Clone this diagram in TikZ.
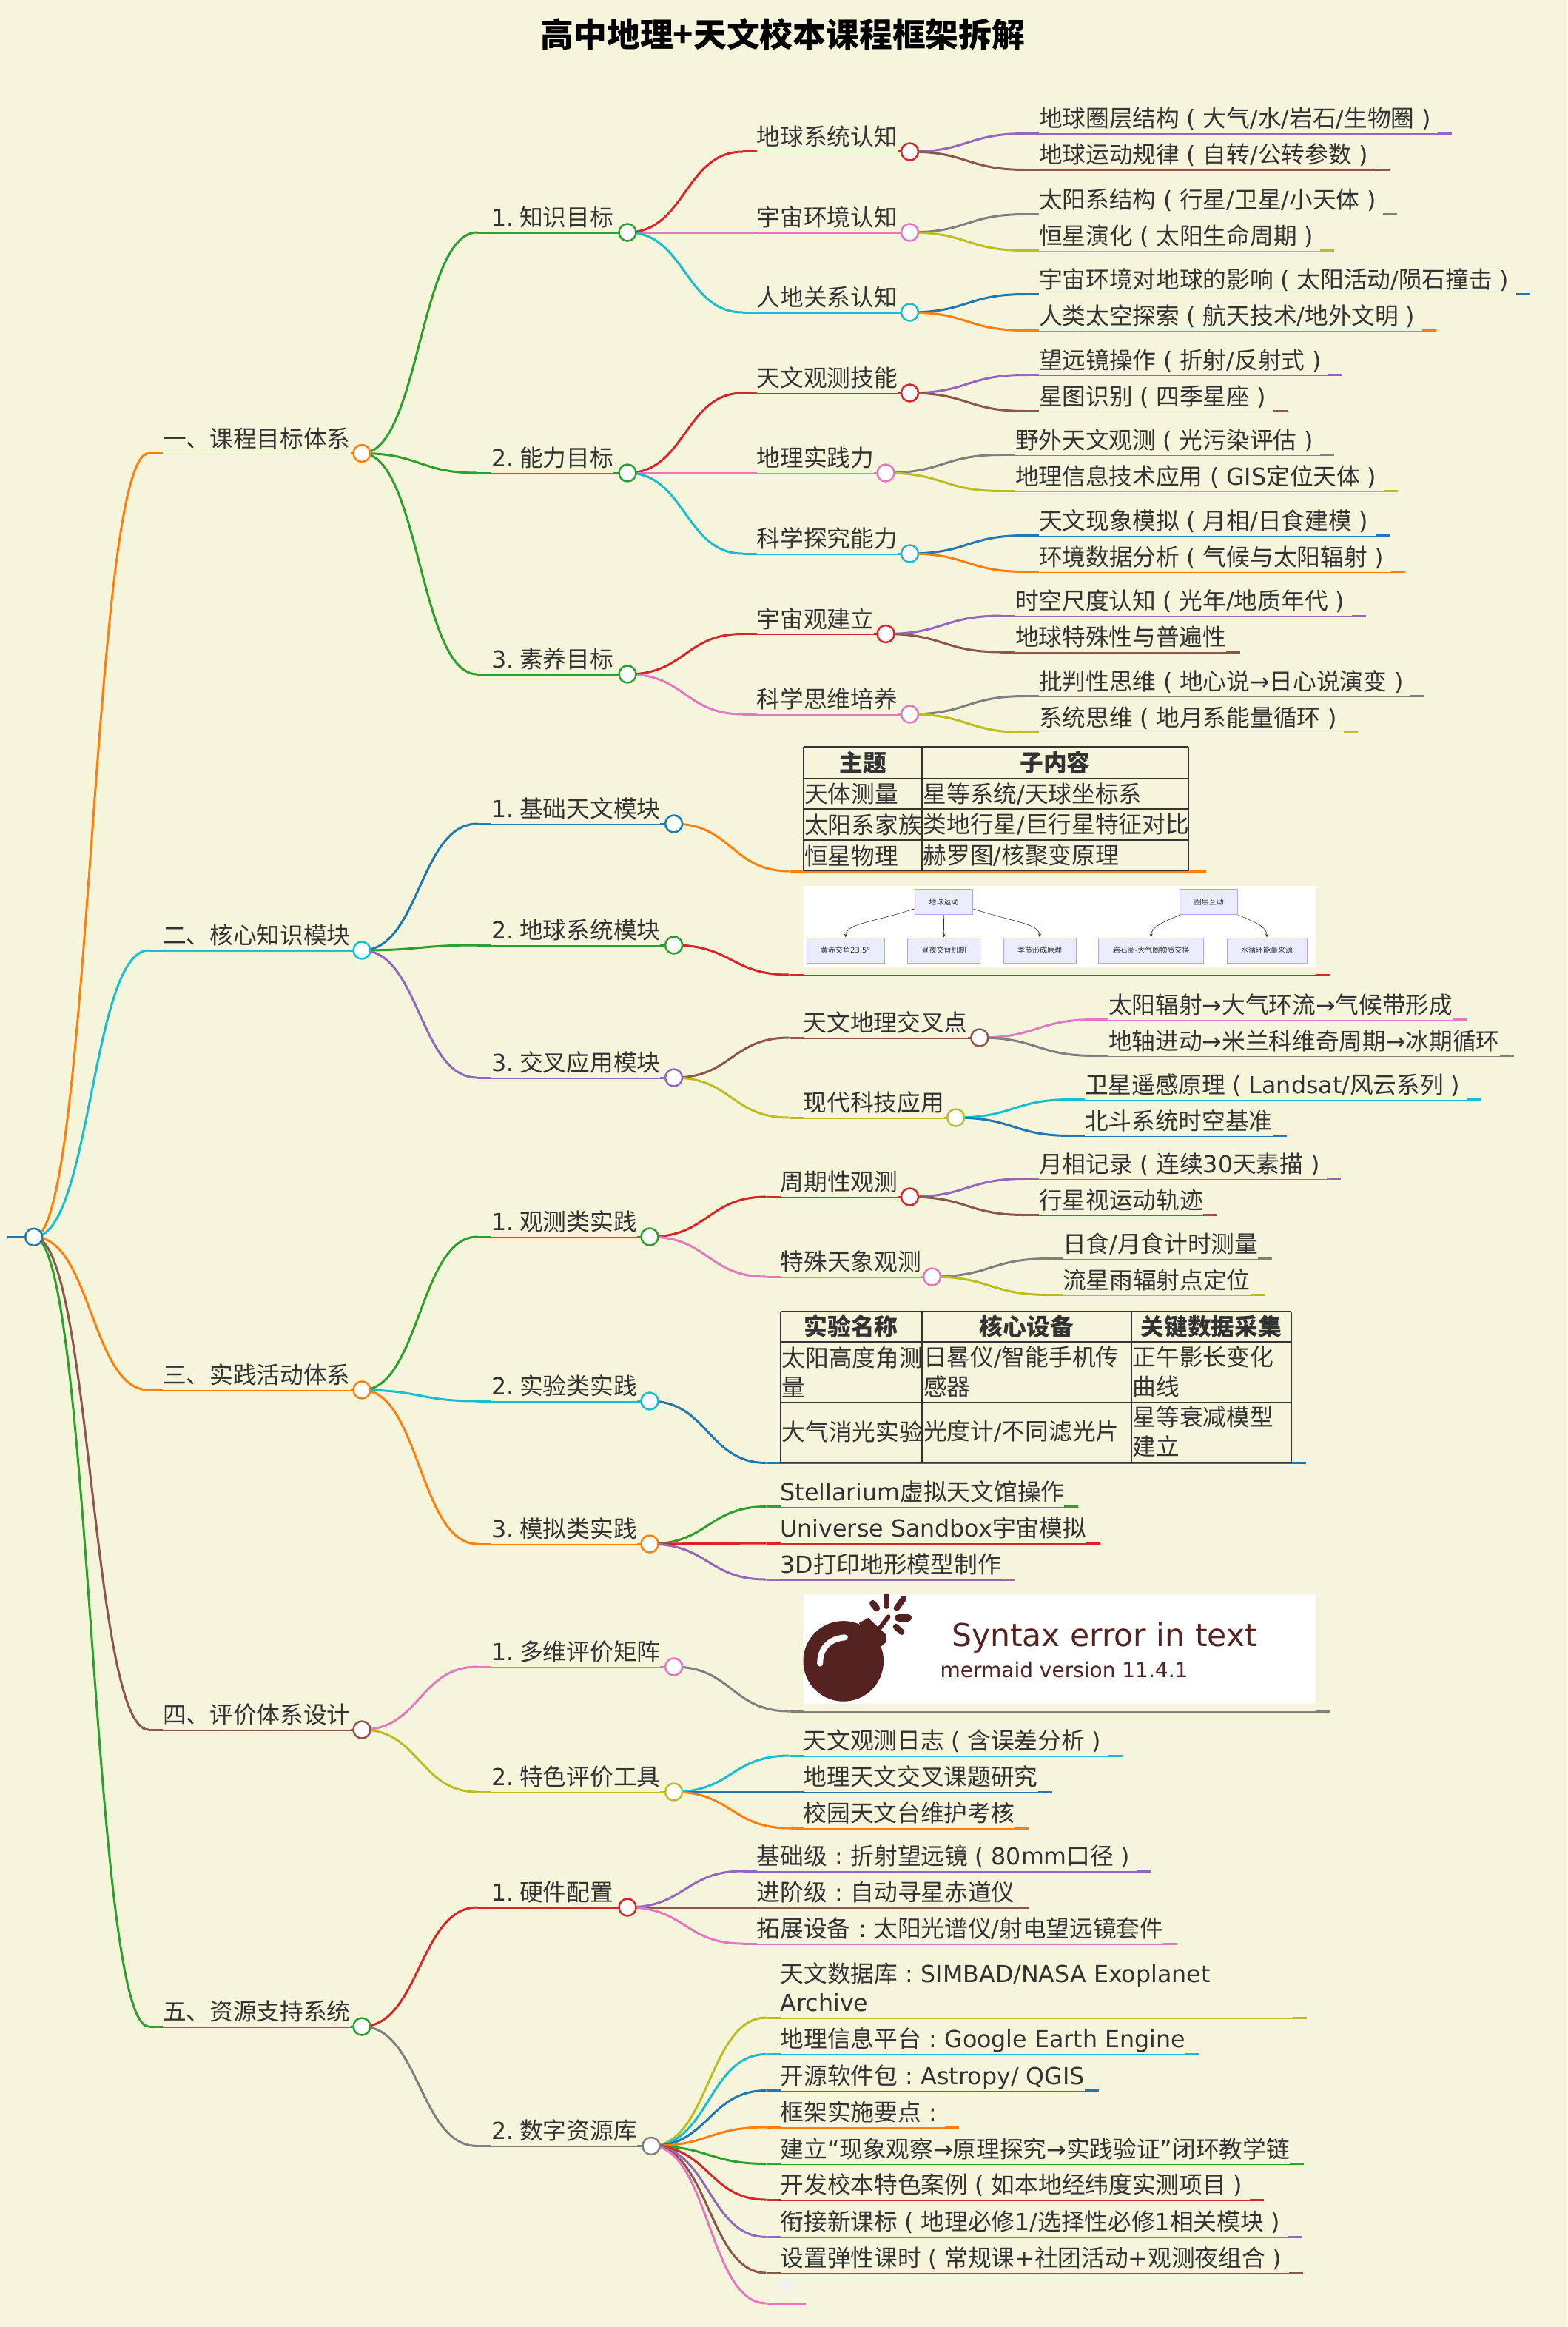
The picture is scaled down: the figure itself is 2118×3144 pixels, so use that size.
\documentclass[tikz,border=0pt]{standalone}
\usepackage{fontspec}
\setmainfont{Noto Sans CJK SC}
\newfontfamily\latfont{DejaVu Sans}
\newcommand{\lat}[1]{{\latfont #1}}
\newcommand{\zkl}{\makebox[1em]{\lat{(}}}
\newcommand{\zkr}{\makebox[1em]{\lat{)}}}
\newcommand{\zmh}{\makebox[1em]{\lat{:}}}
\newcommand{\xg}{\lat{/}}
\newcommand{\nlab}[1]{\lat{#1.}\hspace{8pt}}
\usetikzlibrary{arrows.meta,calc,backgrounds}
\definecolor{bgcol}{HTML}{F5F5DC}
\definecolor{txtcol}{HTML}{333333}
\definecolor{mmblue}{HTML}{1F77B4}
\definecolor{mmorange}{HTML}{FF7F0E}
\definecolor{mmgreen}{HTML}{2CA02C}
\definecolor{mmred}{HTML}{D62728}
\definecolor{mmpurple}{HTML}{9467BD}
\definecolor{mmbrown}{HTML}{8C564B}
\definecolor{mmpink}{HTML}{E377C2}
\definecolor{mmgray}{HTML}{7F7F7F}
\definecolor{mmolive}{HTML}{BCBD22}
\definecolor{mmcyan}{HTML}{17BECF}
\definecolor{bombcol}{HTML}{552222}
\definecolor{flowfill}{HTML}{ECECFF}
\definecolor{flowdraw}{HTML}{B9A5EC}
\begin{document}
\begin{tikzpicture}[x=1pt, y=-1pt,
    mmtext/.style={anchor=south west, inner sep=0pt, outer sep=0pt, fill=bgcol, text=txtcol, font=\fontsize{31.7}{38}\selectfont, text height=31pt, text depth=8.5pt},
    mmdot/.style={circle, fill=white, line width=2.5pt, minimum size=23pt, inner sep=0pt},
    mmline/.style={line width=3pt},
    link/.style={to path={let \p1=(\tikztostart), \p2=(\tikztotarget), \n1={0.5*\x1+0.5*\x2} in .. controls (\n1,\y1) and (\n1,\y2) .. (\tikztotarget)}},
    boxfill/.style={anchor=south west, fill=bgcol, inner sep=0pt, outer sep=0pt},
    imgbox/.style={anchor=north west, fill=white, inner sep=0pt, outer sep=0pt},
    tbline/.style={draw=txtcol, line width=2pt},
    tbhead/.style={text=txtcol, inner sep=0pt, font=\fontsize{31.7}{40}\selectfont\bfseries},
    tbcell/.style={anchor=west, text=txtcol, inner sep=0pt, align=left, font=\fontsize{31.7}{40}\selectfont},
    flowbox/.style={draw=flowdraw, fill=flowfill, line width=1pt, inner sep=0pt, text=txtcol, font=\fontsize{10}{12}\selectfont},
    flowarr/.style={draw=txtcol, line width=0.6pt, -{Stealth[length=5pt,width=4pt]}}]
  \useasboundingbox (0,0) rectangle (2118,3144);
  \begin{pgfonlayer}{background}
    \fill[bgcol] (0,0) rectangle (2118,3144);
  \end{pgfonlayer}

  \node[text=black, inner sep=0pt, font=\fontsize{44.8}{50}\selectfont\bfseries] (title) at (1058,46) {高中地理+天文校本课程框架拆解};

  % root
  \coordinate (rootend) at (10,1671.3);
  \node[mmdot, draw=mmblue] (croot) at (45.7,1671.3) {};
  \begin{pgfonlayer}{background}
    \draw[mmline, mmblue] (rootend) -- (croot.center);
  \end{pgfonlayer}

  % branches with a dot
  \foreach \nm/\up/\xx/\yy/\cx/\col/\txt in {
    s1/root/220/612.5/489/mmorange/{一、课程目标体系},
    s2/root/220/1284/489/mmcyan/{二、核心知识模块},
    s3/root/220/1878/489/mmorange/{三、实践活动体系},
    s4/root/220/2337/489/mmbrown/{四、评价体系设计},
    s5/root/220/2738/489/mmgreen/{五、资源支持系统},
    s11/s1/664/314/848/mmgreen/{\nlab{1}知识目标},
    s12/s1/664/639/848/mmgreen/{\nlab{2}能力目标},
    s13/s1/664/911/848/mmgreen/{\nlab{3}素养目标},
    s21/s2/664/1113/910.6/mmblue/{\nlab{1}基础天文模块},
    s22/s2/664/1277/910.6/mmgreen/{\nlab{2}地球系统模块},
    s23/s2/664/1456/910.6/mmpurple/{\nlab{3}交叉应用模块},
    s31/s3/664/1671/878/mmgreen/{\nlab{1}观测类实践},
    s32/s3/664/1893/878/mmcyan/{\nlab{2}实验类实践},
    s33/s3/664/2086/878/mmorange/{\nlab{3}模拟类实践},
    s41/s4/664/2252/910.6/mmpink/{\nlab{1}多维评价矩阵},
    s42/s4/664/2421/910.6/mmolive/{\nlab{2}特色评价工具},
    s51/s5/664/2577/848/mmred/{\nlab{1}硬件配置},
    s52/s5/664/2899.4/880/mmgray/{\nlab{2}数字资源库},
    s111/s11/1022.8/205/1229.5/mmred/{地球系统认知},
    s112/s11/1022.8/314/1229.5/mmpink/{宇宙环境认知},
    s113/s11/1022.8/422/1229.5/mmcyan/{人地关系认知},
    s121/s12/1022.8/531/1229.5/mmred/{天文观测技能},
    s122/s12/1022.8/639/1197/mmpink/{地理实践力},
    s123/s12/1022.8/748/1229.5/mmcyan/{科学探究能力},
    s131/s13/1022.8/856.5/1197/mmred/{宇宙观建立},
    s132/s13/1022.8/965/1229.5/mmpink/{科学思维培养},
    s231/s23/1085.6/1402/1323.8/mmbrown/{天文地理交叉点},
    s232/s23/1085.6/1510/1291.7/mmolive/{现代科技应用},
    s311/s31/1054.6/1617/1229.5/mmred/{周期性观测},
    s312/s31/1054.6/1725/1259.6/mmpink/{特殊天象观测}}
  {
    \node[mmtext] (\nm) at (\xx,\yy) {\txt};
    \node[mmdot, draw=\col] (c\nm) at (\cx,\yy) {};
    \begin{pgfonlayer}{background}
      \draw[mmline, \col] ([xshift=-19pt]\nm.south west) -- (c\nm.center);
      \draw[mmline, \col] (c\up.center) to[link] ([xshift=-19pt]\nm.south west);
    \end{pgfonlayer}
  }

  % leaves
  \foreach \nm/\up/\xx/\yy/\col/\txt in {
    l1/s111/1404/180.5/mmpurple/{地球圈层结构\zkl 大气\xg 水\xg 岩石\xg 生物圈\zkr},
    l2/s111/1404/229.5/mmbrown/{地球运动规律\zkl 自转\xg 公转参数\zkr},
    l3/s112/1404/289.5/mmgray/{太阳系结构\zkl 行星\xg 卫星\xg 小天体\zkr},
    l4/s112/1404/338.5/mmolive/{恒星演化\zkl 太阳生命周期\zkr},
    l5/s113/1404/397.5/mmblue/{宇宙环境对地球的影响\zkl 太阳活动\xg 陨石撞击\zkr},
    l6/s113/1404/446.5/mmorange/{人类太空探索\zkl 航天技术\xg 地外文明\zkr},
    l7/s121/1404/506.5/mmpurple/{望远镜操作\zkl 折射\xg 反射式\zkr},
    l8/s121/1404/555.5/mmbrown/{星图识别\zkl 四季星座\zkr},
    l9/s122/1372/614.5/mmgray/{野外天文观测\zkl 光污染评估\zkr},
    l10/s122/1372/663.5/mmolive/{地理信息技术应用\zkl\lat{GIS}定位天体\zkr},
    l11/s123/1404/723.5/mmblue/{天文现象模拟\zkl 月相\xg 日食建模\zkr},
    l12/s123/1404/772.5/mmorange/{环境数据分析\zkl 气候与太阳辐射\zkr},
    l13/s131/1372/832/mmpurple/{时空尺度认知\zkl 光年\xg 地质年代\zkr},
    l14/s131/1372/881/mmbrown/{地球特殊性与普遍性},
    l15/s132/1404/940.5/mmgray/{批判性思维\zkl 地心说\lat{→}日心说演变\zkr},
    l16/s132/1404/989.5/mmolive/{系统思维\zkl 地月系能量循环\zkr},
    l17/s231/1498/1377.5/mmpink/{太阳辐射\lat{→}大气环流\lat{→}气候带形成},
    l18/s231/1498/1426.5/mmgray/{地轴进动\lat{→}米兰科维奇周期\lat{→}冰期循环},
    l19/s232/1466/1485.5/mmcyan/{卫星遥感原理\zkl\lat{Landsat/}风云系列\zkr},
    l20/s232/1466/1534.5/mmblue/{北斗系统时空基准},
    l21/s311/1404/1592.5/mmpurple/{月相记录\zkl 连续\lat{30}天素描\zkr},
    l22/s311/1404/1641.5/mmbrown/{行星视运动轨迹},
    l23/s312/1436/1700.5/mmgray/{日食\xg 月食计时测量},
    l24/s312/1436/1749.5/mmolive/{流星雨辐射点定位},
    l25/s33/1054.6/2035.5/mmgreen/{\lat{Stellarium}虚拟天文馆操作},
    l26/s33/1054.6/2085/mmred/{\lat{Universe Sandbox}宇宙模拟},
    l27/s33/1054.6/2134/mmpurple/{\lat{3D}打印地形模型制作},
    l28/s42/1085.6/2372/mmcyan/{天文观测日志\zkl 含误差分析\zkr},
    l29/s42/1085.6/2421/mmblue/{地理天文交叉课题研究},
    l30/s42/1085.6/2470/mmorange/{校园天文台维护考核},
    l31/s51/1022.8/2528/mmpurple/{基础级\zmh 折射望远镜\zkl\lat{80mm}口径\zkr},
    l32/s51/1022.8/2577/mmbrown/{进阶级\zmh 自动寻星赤道仪},
    l33/s51/1022.8/2626/mmpink/{拓展设备\zmh 太阳光谱仪\xg 射电望远镜套件},
    l34/s52/1054.6/2726/mmolive/{\parbox[b]{692pt}{\baselineskip=39pt 天文数据库\zmh\lat{SIMBAD/NASA Exoplanet}\\\lat{Archive}}},
    l35/s52/1054.6/2775.4/mmcyan/{地理信息平台\zmh\lat{Google Earth Engine}},
    l36/s52/1054.6/2824.5/mmblue/{开源软件包\zmh\lat{Astropy/ QGIS}},
    l37/s52/1054.6/2874/mmorange/{框架实施要点\zmh},
    l38/s52/1054.6/2923.5/mmgreen/{建立\lat{“}现象观察\lat{→}原理探究\lat{→}实践验证\lat{”}闭环教学链},
    l39/s52/1054.6/2972/mmred/{开发校本特色案例\zkl 如本地经纬度实测项目\zkr},
    l40/s52/1054.6/3022.4/mmpurple/{衔接新课标\zkl 地理必修\lat{1/}选择性必修\lat{1}相关模块\zkr},
    l41/s52/1054.6/3071/mmbrown/{设置弹性课时\zkl 常规课\lat{+}社团活动\lat{+}观测夜组合\zkr},
    l42/s52/1054.6/3112/mmpink/{\hspace*{15pt}}}
  {
    \node[mmtext] (\nm) at (\xx,\yy) {\txt};
    \begin{pgfonlayer}{background}
      \draw[mmline, \col] ([xshift=-19pt]\nm.south west) -- ([xshift=19pt]\nm.south east);
      \draw[mmline, \col] (c\up.center) to[link] ([xshift=-19pt]\nm.south west);
    \end{pgfonlayer}
  }
  \node[fill=black!6, inner sep=0pt, minimum width=15pt, minimum height=13.6pt] (emptycode) at (1061.5,3088) {};

  % table under s21
  \node[boxfill, minimum width=520.4pt, minimum height=168pt] (tb1) at (1085.6,1177) {};
  \begin{pgfonlayer}{background}
    \draw[mmline, mmorange] ([xshift=-19pt]tb1.south west) -- ([xshift=24pt]tb1.south east);
    \draw[mmline, mmorange] (cs21.center) to[link] ([xshift=-19pt]tb1.south west);
  \end{pgfonlayer}
  \foreach \yy in {1009,1051.7,1093,1135,1176} \draw[tbline] (1085.6,\yy) -- (1606,\yy);
  \foreach \xx in {1085.6,1246,1606} \draw[tbline] (\xx,1009) -- (\xx,1176);
  \node[tbhead] (tb1h1) at (1166,1030) {主题};
  \node[tbhead] (tb1h2) at (1426,1030) {子内容};
  \foreach \nm/\yy/\ta/\tb in {r1/1072.5/{天体测量}/{星等系统\xg 天球坐标系},
      r2/1114/{太阳系家族}/{类地行星\xg 巨行星特征对比},
      r3/1156/{恒星物理}/{赫罗图\xg 核聚变原理}} {
    \node[tbcell] (tb1\nm a) at (1087,\yy) {\ta};
    \node[tbcell] (tb1\nm b) at (1247.5,\yy) {\tb};
  }

  % flow picture under s22
  \node[boxfill, minimum width=692.4pt, minimum height=120pt] (img1) at (1085.6,1317) {};
  \begin{pgfonlayer}{background}
    \draw[mmline, mmred] ([xshift=-19pt]img1.south west) -- ([xshift=19pt]img1.south east);
    \draw[mmline, mmred] (cs22.center) to[link] ([xshift=-19pt]img1.south west);
  \end{pgfonlayer}
  \node[imgbox, minimum width=692.4pt, minimum height=110pt] (img1w) at (1085.6,1197) {};
  \node[flowbox, minimum width=78pt, minimum height=34pt] (earthmove) at (1275.4,1218.7) {地球运动};
  \node[flowbox, minimum width=78pt, minimum height=34pt] (sphere) at (1633.9,1218.7) {圈层互动};
  \node[flowbox, minimum width=105.6pt, minimum height=34pt] (tilt) at (1142.8,1284) {黄赤交角\lat{23.5°}};
  \node[flowbox, minimum width=98.3pt, minimum height=34pt] (daynight) at (1275.6,1284) {昼夜交替机制};
  \node[flowbox, minimum width=98pt, minimum height=34pt] (season) at (1405,1284) {季节形成原理};
  \node[flowbox, minimum width=141.8pt, minimum height=34pt] (exchange) at (1555.7,1284) {岩石圈-大气圈物质交换};
  \node[flowbox, minimum width=108pt, minimum height=34pt] (water) at (1712,1284) {水循环能量来源};
  \draw[flowarr] (earthmove.193) .. controls (1180,1246) and (1142.8,1248) .. (tilt.north);
  \draw[flowarr] (earthmove.south) -- (daynight.north);
  \draw[flowarr] (earthmove.347) .. controls (1370,1246) and (1405,1248) .. (season.north);
  \draw[flowarr] (sphere.south west) .. controls (1572,1246) and (1555.7,1252) .. (exchange.north);
  \draw[flowarr] (sphere.south east) .. controls (1696,1246) and (1712,1252) .. (water.north);

  % table under s32
  \node[boxfill, minimum width=690.4pt, minimum height=204.7pt] (tb2) at (1054.6,1976.5) {};
  \begin{pgfonlayer}{background}
    \draw[mmline, mmblue] ([xshift=-19pt]tb2.south west) -- ([xshift=20pt]tb2.south east);
    \draw[mmline, mmblue] (cs32.center) to[link] ([xshift=-19pt]tb2.south west);
  \end{pgfonlayer}
  \foreach \yy in {1772,1813,1894.7,1975.5} \draw[tbline] (1054.6,\yy) -- (1745,\yy);
  \foreach \xx in {1054.6,1246,1528.6,1745} \draw[tbline] (\xx,1772) -- (\xx,1975.5);
  \node[tbhead] (tb2h1) at (1150,1792.5) {实验名称};
  \node[tbhead] (tb2h2) at (1387.3,1792.5) {核心设备};
  \node[tbhead] (tb2h3) at (1636.8,1792.5) {关键数据采集};
  \node[tbcell] (tb2r1a) at (1056.5,1853.5) {太阳高度角测\\量};
  \node[tbcell] (tb2r1b) at (1248,1853.5) {日晷仪\xg 智能手机传\\感器};
  \node[tbcell] (tb2r1c) at (1530.5,1853.5) {正午影长变化\\曲线};
  \node[tbcell] (tb2r2a) at (1056.5,1934) {大气消光实验};
  \node[tbcell] (tb2r2b) at (1248,1934) {光度计\xg 不同滤光片};
  \node[tbcell] (tb2r2c) at (1530.5,1934) {星等衰减模型\\建立};

  % error picture under s41
  \node[boxfill, minimum width=692.4pt, minimum height=158pt] (img2) at (1085.6,2312) {};
  \begin{pgfonlayer}{background}
    \draw[mmline, mmgray] ([xshift=-19pt]img2.south west) -- ([xshift=19pt]img2.south east);
    \draw[mmline, mmgray] (cs41.center) to[link] ([xshift=-19pt]img2.south west);
  \end{pgfonlayer}
  \node[imgbox, minimum width=692.4pt, minimum height=148pt] (img2w) at (1085.6,2154) {};
  \fill[bombcol] (1139.8,2244.4) circle (54.3pt);
  \fill[bombcol] (1160.7,2193) -- (1173.5,2186) -- (1198,2209) -- (1197,2219) -- (1189,2226) -- cycle;
  \draw[white, line width=8pt, line cap=round] (1141.8,2212.3) .. controls (1120,2214) and (1108,2228) .. (1108.2,2247.5);
  \foreach \ax/\ay/\bx/\by/\wd in {1186/2203.5/1200.5/2184.4/6, 1198/2156.5/1198/2170/8, 1179.6/2166.4/1184.7/2172.9/9,
      1221/2160/1211.7/2172.9/8, 1214.3/2185.5/1227/2185.5/10, 1210.7/2197.8/1218.4/2205/8}
    \draw[bombcol, line width=\wd pt, line cap=round] (\ax,\ay) -- (\bx,\by);
  \node[anchor=base, inner sep=0pt, text=bombcol, font=\latfont\fontsize{42.5}{50}\selectfont] (errtext) at (1492.5,2224.6) {Syntax error in text};
  \node[anchor=base, inner sep=0pt, text=bombcol, font=\latfont\fontsize{28}{34}\selectfont] (errver) at (1438,2266.6) {mermaid version 11.4.1};
\end{tikzpicture}
\end{document}
